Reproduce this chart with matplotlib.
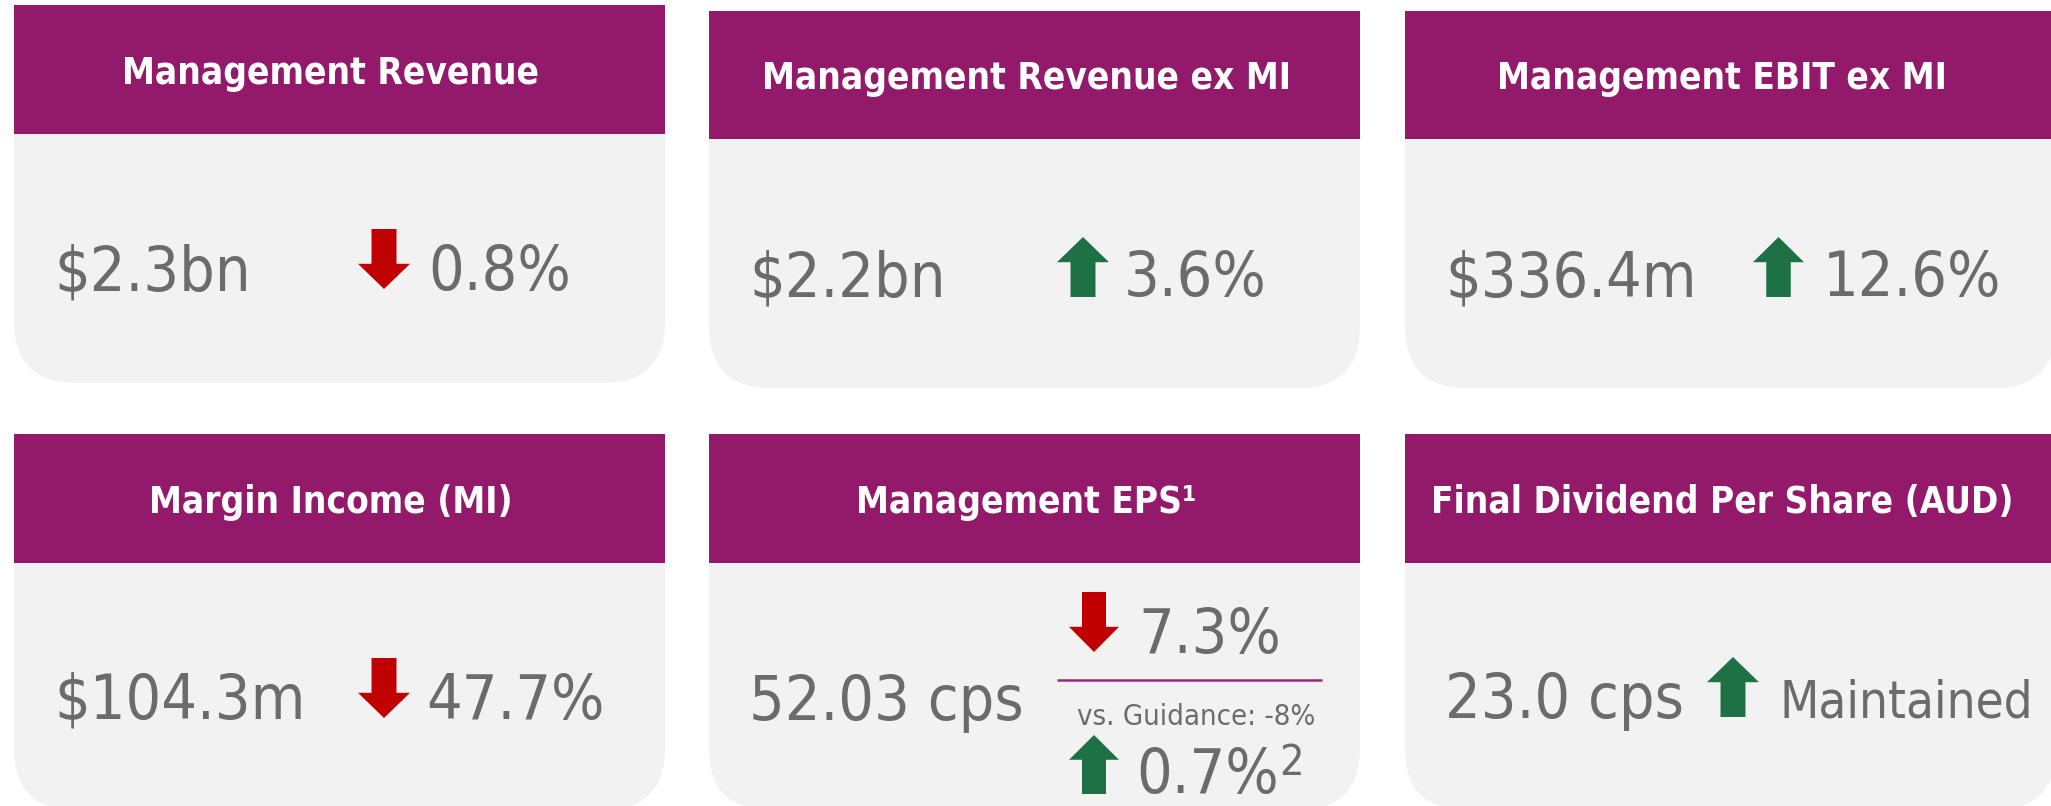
import matplotlib
matplotlib.use("Agg")
import matplotlib.pyplot as plt
from matplotlib.patches import Rectangle, FancyBboxPatch, Polygon

# ---------------- data ----------------
titles = ["Management Revenue", "Management Revenue ex MI", "Management EBIT ex MI",
          "Margin Income (MI)", "Management EPS\u00b9", "Final Dividend Per Share (AUD)"]
values = ["$2.3bn", "$2.2bn", "$336.4m", "$104.3m", "52.03 cps", "23.0 cps"]
changes = ["0.8%", "3.6%", "12.6%", "47.7%", "7.3%", "Maintained"]
directions = ["down", "up", "up", "down", "down", "up"]
eps_guidance_label = "vs. Guidance: -8%"
eps_guidance_change = "0.7%"
eps_guidance_direction = "up"
eps_guidance_footnote = "2"

# ---------------- layout (pixel coordinates) ----------------
W, H = 2051, 806
PURPLE = "#93196B"
BODY = "#F2F2F2"
GREY = "#6B6B6B"
RED = "#C00000"
GREEN = "#1E7145"

card_left = [14, 709, 1405, 14, 709, 1405]
card_top = [5, 11, 11, 434, 434, 434]
header_h = [129, 128, 128, 129, 129, 129]
card_bottom = [383, 388, 388, 810, 810, 810]
card_w = 651
title_base = [84, 89, 89, 513, 513, 513]
value_base = [290, 296, 296, 719, 720, 718]
arrow_box = [(358, 410, 229, 289), (1057, 1109, 237, 297), (1753, 1804, 237, 297),
             (358, 410, 658, 718), (1069, 1119, 592, 652), (1707, 1759, 657, 717)]
change_x = [428, 1124, 1823, 426, 1138, 1780]
change_base = [290, 296, 296, 719, 653, 718]
change_fs = [45, 45, 45, 45, 45, 36.5]

VALUE_FS = 45
TITLE_FS = 26.5
VALUE_FONT = dict(family="DejaVu Sans", fontstretch="condensed")
TITLE_FONT = dict(family="DejaVu Sans", fontstretch="condensed", fontweight="bold")

fig = plt.figure(figsize=(W / 100, H / 100), dpi=100)
ax = fig.add_axes([0, 0, 1, 1])
ax.set_xlim(0, W)
ax.set_ylim(H, 0)
ax.axis("off")


def arrow(box, direction, color):
    x0, x1, y0, y1 = box
    w = x1 - x0
    h = y1 - y0
    sw = w * 0.48
    hh = h * 0.42
    cx = (x0 + x1) / 2
    if direction == "down":
        pts = [(cx - sw / 2, y0), (cx + sw / 2, y0), (cx + sw / 2, y1 - hh), (x1, y1 - hh),
               (cx, y1), (x0, y1 - hh), (cx - sw / 2, y1 - hh)]
    else:
        pts = [(cx - sw / 2, y1), (cx + sw / 2, y1), (cx + sw / 2, y0 + hh), (x1, y0 + hh),
               (cx, y0), (x0, y0 + hh), (cx - sw / 2, y0 + hh)]
    ax.add_patch(Polygon(pts, closed=True, facecolor=color, edgecolor="none", zorder=3))


for i in range(6):
    L, T = card_left[i], card_top[i]
    B = card_bottom[i]
    # body with rounded bottom corners
    ax.add_patch(FancyBboxPatch((L, T), card_w, B - T,
                                boxstyle="round,pad=0,rounding_size=62",
                                facecolor=BODY, edgecolor="none", zorder=1))
    # header
    ax.add_patch(Rectangle((L, T), card_w, header_h[i], facecolor=PURPLE,
                           edgecolor="none", zorder=2))
    ax.text(L + 317, title_base[i], titles[i], color="white", fontsize=TITLE_FS,
            ha="center", va="baseline", zorder=4, **TITLE_FONT)
    ax.text(L + 40, value_base[i], values[i], color=GREY, fontsize=VALUE_FS,
            ha="left", va="baseline", zorder=4, **VALUE_FONT)
    arrow(arrow_box[i], directions[i], RED if directions[i] == "down" else GREEN)
    ax.text(change_x[i], change_base[i], changes[i], color=GREY, fontsize=change_fs[i],
            ha="left", va="baseline", zorder=4, **VALUE_FONT)

# EPS extra: divider, guidance label, second change
ax.plot([1057, 1322], [680, 680], color="#9B2A7A", lw=1.8, zorder=4, solid_capstyle="butt")
ax.text(1077, 725, eps_guidance_label, color=GREY, fontsize=21,
        ha="left", va="baseline", zorder=4, **VALUE_FONT)
arrow((1069, 1119, 735, 794), eps_guidance_direction,
      GREEN if eps_guidance_direction == "up" else RED)
ax.text(1136, 793, eps_guidance_change, color=GREY, fontsize=VALUE_FS,
        ha="left", va="baseline", zorder=4, **VALUE_FONT)
ax.text(1279, 775, eps_guidance_footnote, color=GREY, fontsize=31,
        ha="left", va="baseline", zorder=4, **VALUE_FONT)

fig.savefig("out.png", dpi=100, facecolor="white")
